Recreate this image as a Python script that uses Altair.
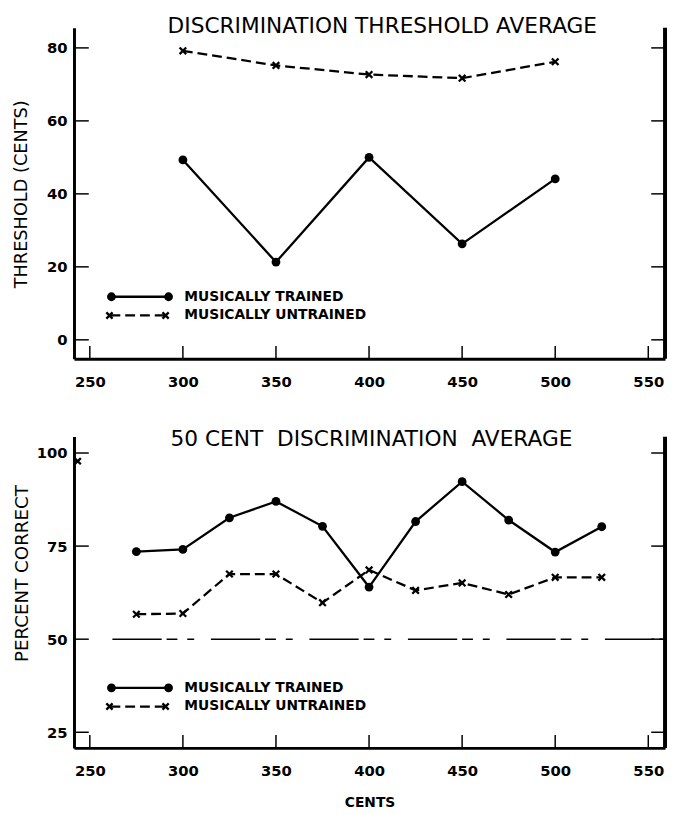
import altair as alt
import pandas as pd

# ---------------- data ----------------
top_cents = [300, 350, 400, 450, 500]
top_trained = [49.3, 21.3, 50.0, 26.3, 44.1]
top_untrained = [79.2, 75.2, 72.7, 71.7, 76.2]

bot_cents = [275, 300, 325, 350, 375, 400, 425, 450, 475, 500, 525]
bot_trained = [73.5, 74.1, 82.6, 87.0, 80.3, 64.0, 81.6, 92.3, 82.0, 73.4, 80.2]
bot_untrained = [56.7, 56.9, 67.5, 67.5, 59.8, 68.6, 63.1, 65.1, 62.0, 66.6, 66.6]

x_ticks = [250, 300, 350, 400, 450, 500, 550]
top_y_ticks = [0, 20, 40, 60, 80]
bot_y_ticks = [25, 50, 75, 100]
chance_level = [50]
stray_cents = [243.5]
stray_value = [97.8]

top_title = "DISCRIMINATION THRESHOLD AVERAGE"
bot_title = "50\u00a0CENT\u00a0\u00a0DISCRIMINATION\u00a0\u00a0AVERAGE"
top_ytitle = "THRESHOLD (CENTS)"
bot_ytitle = "PERCENT CORRECT"
x_title = "CENTS"
legend_labels = ["MUSICALLY TRAINED", "MUSICALLY UNTRAINED"]

FONT = "DejaVu Sans"
W = 600
XMARK = "M-1,-1L1,1M-1,1L1,-1"
X_DOMAIN = [241.5, 559]
LW = 2.3
DASH = [10, 5]


def panel(cents, trained, untrained, ydom, yticks, h, title, tx, ty,
          ytitle, ytitle_size, ytitle_y, leg_y, xtitle):
    xs = alt.Scale(domain=X_DOMAIN, nice=False, zero=False)
    ys = alt.Scale(domain=ydom, nice=False, zero=False)
    xax = dict(values=x_ticks, ticks=False, grid=False, domainColor="black",
               domainWidth=3, labelFont=FONT, labelFontSize=15,
               labelFontWeight="bold", labelColor="black", labelPadding=16,
               labelFlush=False)
    if xtitle:
        X = alt.X("cents:Q", scale=xs, title=xtitle,
                  axis=alt.Axis(**xax, titleFont=FONT, titleFontSize=14,
                                titleFontWeight="bold", titleColor="black",
                                titlePadding=18))
    else:
        X = alt.X("cents:Q", scale=xs, title=None, axis=alt.Axis(**xax))
    Y = alt.Y("value:Q", scale=ys, title=None,
              axis=alt.Axis(values=yticks, ticks=False, grid=False,
                            domainColor="black", domainWidth=3,
                            labelFont=FONT, labelFontSize=15,
                            labelFontWeight="bold", labelColor="black",
                            labelPadding=7, labelFlush=False))

    df_t = pd.DataFrame({"cents": cents, "value": trained})
    df_u = pd.DataFrame({"cents": cents, "value": untrained})
    df_yt = pd.DataFrame({"value": yticks})
    df_xt = pd.DataFrame({"cents": x_ticks})
    one = pd.DataFrame({"k": [0]})

    def label(text, size, weight, **kw):
        return alt.Chart(pd.DataFrame({"t": [text]})).mark_text(
            font=FONT, fontSize=size, fontWeight=weight, color="black", **kw)

    layers = [
        alt.Chart(df_t).mark_line(color="black", strokeWidth=LW).encode(x=X, y=Y),
        alt.Chart(df_t).mark_point(shape="circle", filled=True, color="black",
                                   opacity=1, size=80).encode(x=X, y=Y),
        alt.Chart(df_u).mark_line(color="black", strokeWidth=LW,
                                  strokeDash=DASH).encode(x=X, y=Y),
        alt.Chart(df_u).mark_point(shape=XMARK, filled=False, color="black",
                                   opacity=1, size=45, strokeWidth=2.3).encode(x=X, y=Y),
        # inward ticks: left, right, bottom
        alt.Chart(df_yt).mark_rule(color="black", strokeWidth=1.5).encode(
            y=Y, x=alt.value(0), x2=alt.value(15)),
        alt.Chart(df_yt).mark_rule(color="black", strokeWidth=1.5).encode(
            y=Y, x=alt.value(W - 14), x2=alt.value(W)),
        alt.Chart(df_xt).mark_rule(color="black", strokeWidth=1.5).encode(
            x=X, y=alt.value(h - 13), y2=alt.value(h)),
        # right frame line
        alt.Chart(one).mark_rule(color="black", strokeWidth=4).encode(
            x=alt.value(W), y=alt.value(0), y2=alt.value(h)),
        # title
        label(title, 22, "normal", align="center", baseline="alphabetic").encode(
            text="t:N", x=alt.value(tx), y=alt.value(ty)),
        # y-axis title
        label(ytitle, ytitle_size, "normal", align="center", baseline="middle",
              angle=270).encode(text="t:N", x=alt.value(-53), y=alt.value(ytitle_y)),
        # legend
        alt.Chart(one).mark_rule(color="black", strokeWidth=LW).encode(
            x=alt.value(38), x2=alt.value(96), y=alt.value(leg_y)),
        alt.Chart(one).mark_point(shape="circle", filled=True, color="black",
                                  opacity=1, size=80).encode(
            x=alt.value(38), y=alt.value(leg_y)),
        alt.Chart(one).mark_point(shape="circle", filled=True, color="black",
                                  opacity=1, size=80).encode(
            x=alt.value(96), y=alt.value(leg_y)),
        alt.Chart(one).mark_rule(color="black", strokeWidth=LW,
                                 strokeDash=DASH).encode(
            x=alt.value(37), x2=alt.value(92), y=alt.value(leg_y + 19)),
        alt.Chart(one).mark_point(shape=XMARK, filled=False, color="black",
                                  opacity=1, size=40, strokeWidth=2.3).encode(
            x=alt.value(36), y=alt.value(leg_y + 19)),
        alt.Chart(one).mark_point(shape=XMARK, filled=False, color="black",
                                  opacity=1, size=40, strokeWidth=2.3).encode(
            x=alt.value(93), y=alt.value(leg_y + 19)),
        label(legend_labels[0], 14, "bold", align="left", baseline="middle").encode(
            text="t:N", x=alt.value(112), y=alt.value(leg_y)),
        label(legend_labels[1], 14, "bold", align="left", baseline="middle").encode(
            text="t:N", x=alt.value(112), y=alt.value(leg_y + 19)),
    ]
    return layers, X, Y


top_layers, _, _ = panel(top_cents, top_trained, top_untrained, [-5.2, 85.5],
                         top_y_ticks, 336, top_title, 313, 5, top_ytitle, 18,
                         169, 273, None)
top = alt.layer(*top_layers).properties(width=W, height=336)

bot_layers, Xb, Yb = panel(bot_cents, bot_trained, bot_untrained, [20.8, 104.4],
                           bot_y_ticks, 316, bot_title, 302, 10, bot_ytitle, 18.5,
                           139, 255, x_title)
chance = alt.Chart(pd.DataFrame({"value": chance_level})).mark_rule(
    color="black", strokeWidth=1.5, strokeDash=[50, 5, 11, 10, 7, 17]).encode(
    y=Yb, x=alt.value(39), x2=alt.value(W))
stray = alt.Chart(pd.DataFrame({"cents": stray_cents, "value": stray_value})).mark_point(
    shape=XMARK, filled=False, color="black", opacity=1, size=40,
    strokeWidth=2.3).encode(x=Xb, y=Yb)
bot = alt.layer(chance, stray, *bot_layers).properties(width=W, height=316)

chart = alt.vconcat(top, bot, spacing=40).properties(
    padding={"left": 5, "top": 1, "right": 0, "bottom": 0}
).configure_view(stroke=None)

chart.save("out.html", embed_options={"renderer": "svg", "actions": False})
